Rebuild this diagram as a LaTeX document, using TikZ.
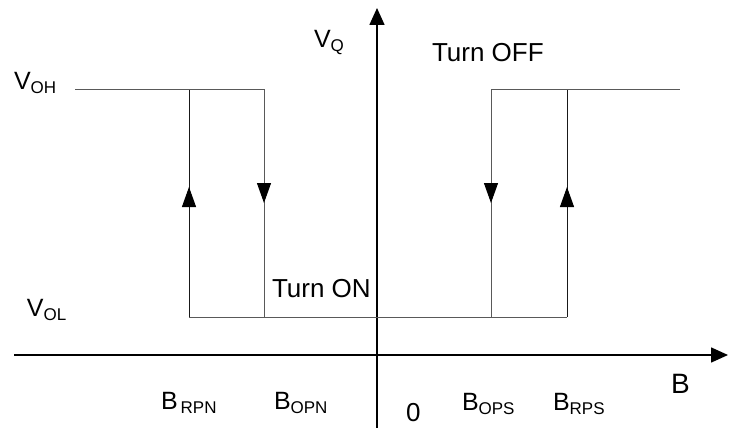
\documentclass[tikz,border=0pt]{standalone}
\usepackage{fontspec}
\setmainfont{Liberation Sans}
\usetikzlibrary{arrows.meta}
\newcommand{\mainsz}{\fontsize{25}{25}\selectfont}
\newcommand{\subsz}{\fontsize{17}{17}\selectfont}
\newcommand{\lbl}[2]{{\mainsz #1}{\subsz\raisebox{-4pt}{#2}}}
\begin{document}
\begin{tikzpicture}[x=1pt,y=-1pt,
  axisline/.style={line width=1.6pt,black,-{Triangle[length=17pt,width=15pt]}},
  curve/.style={line width=1pt,black!65},
  curvedark/.style={line width=1pt,black!90},
  midarrow/.style={line width=1pt,black!90,-{Triangle[length=20pt,width=14pt,fill=black,color=black]}},
  txt/.style={anchor=base west,inner sep=0pt,outer sep=0pt}]
\useasboundingbox (0,0) rectangle (729,428);
% axes
\coordinate (ybot) at (377,428);
\coordinate (ytop) at (377,8);
\coordinate (xleft) at (14,355);
\coordinate (xright) at (728,355);
\draw[axisline] (ybot) -- (ytop);
\draw[axisline] (xleft) -- (xright);
% hysteresis curve coordinates
\coordinate (ohL) at (75,90);
\coordinate (rpnT) at (189,90);
\coordinate (opnT) at (264,90);
\coordinate (rpnB) at (189,317);
\coordinate (opnB) at (264,317);
\coordinate (opsT) at (491,90);
\coordinate (rpsT) at (567,90);
\coordinate (opsB) at (491,317);
\coordinate (rpsB) at (567,317);
\coordinate (ohR) at (680,90);
% lines
\draw[curve] (ohL) -- (opnT) -- (opnB);
\draw[curvedark] (rpnB) -- (rpnT);
\draw[curve] (rpnB) -- (rpsB);
\draw[curvedark] (rpsB) -- (rpsT);
\draw[curve] (opsB) -- (opsT) -- (ohR);
% mid arrows
\coordinate (a1) at (189,187);
\coordinate (a2) at (264,203);
\coordinate (a3) at (491,203);
\coordinate (a4) at (567,187);
\draw[midarrow] (rpnB) -- (a1);
\draw[midarrow,black!65] (opnT) -- (a2);
\draw[midarrow,black!65] (opsT) -- (a3);
\draw[midarrow] (rpsB) -- (a4);
% labels
\node[txt] (vq) at (314,48) {\lbl{V}{Q}};
\node[txt] (voh) at (14,90) {\lbl{V}{OH}};
\node[txt] (vol) at (27,316) {\lbl{V}{OL}};
\node[txt] (toff) at (432,62) {\fontsize{26}{26}\selectfont Turn OFF};
\node[txt] (ton) at (272,297) {\fontsize{26}{26}\selectfont Turn ON};
\node[txt] (brpn) at (161,409) {\lbl{B\hspace{3pt}}{RPN}};
\node[txt] (bopn) at (274,409) {\lbl{B}{OPN}};
\node[txt] (zero) at (406,421) {\fontsize{26}{26}\selectfont 0};
\node[txt] (bops) at (462,410) {\lbl{B}{OPS}};
\node[txt] (brps) at (553,410) {\lbl{B}{RPS}};
\node[txt] (bax) at (671,393) {\fontsize{28}{28}\selectfont B};
\end{tikzpicture}
\end{document}
